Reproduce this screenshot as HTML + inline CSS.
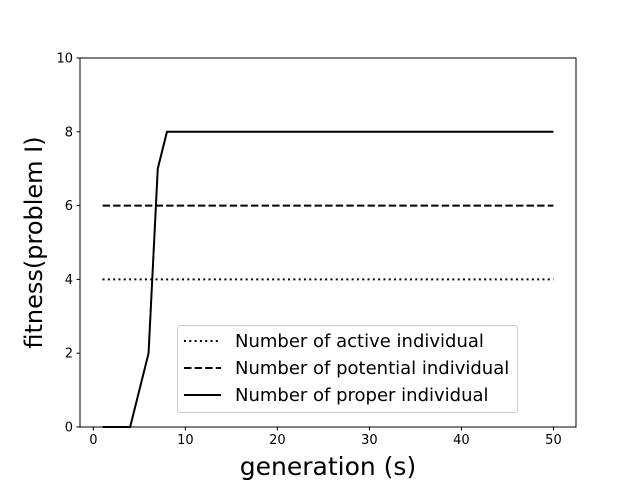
<!DOCTYPE html>
<html><head><meta charset="utf-8"><style>
html,body{margin:0;padding:0;background:#fff;}
svg{display:block;font-family:"DejaVu Sans","Liberation Sans",sans-serif;}
</style></head><body>
<svg id="c" width="640" height="480"></svg>
<script>
const generations = Array.from({length:50},(_,i)=>i+1);
const activeValues = generations.map(()=>4);
const potentialValues = generations.map(()=>6);
const properValues = [0,0,0,0,1,2,7,8,8,8,8,8,8,8,8,8,8,8,8,8,8,8,8,8,8,8,8,8,8,8,8,8,8,8,8,8,8,8,8,8,8,8,8,8,8,8,8,8,8,8];
const xTicks = [0,10,20,30,40,50];
const yTicks = [0,2,4,6,8,10];
const L=80,R=576,T=58,B=427, X0=-1.45, X1=52.45, Y0=0, Y1=10;
const sx=v=>L+(v-X0)/(X1-X0)*(R-L);
const sy=v=>B-(v-Y0)/(Y1-Y0)*(B-T);
const svg=document.getElementById('c');
const NS='http://www.w3.org/2000/svg';
function mk(tag,attrs,name,parent){const e=document.createElementNS(NS,tag);for(const k in attrs)e.setAttribute(k,attrs[k]);


(parent||svg).appendChild(e);return e;}
function series(vals,dash,name){
  const d=vals.map((v,i)=>(i?'L':'M')+sx(generations[i]).toFixed(2)+','+sy(v).toFixed(2)).join('');
  const a={d:d,fill:'none',stroke:'#000','stroke-width':2};
  if(dash)a['stroke-dasharray']=dash;
  mk('path',a,name);
}
series(activeValues,'2,3.3','active-line');
series(potentialValues,'7.4,3.2','potential-line');
series(properValues,null,'proper-line');
mk('rect',{x:L,y:T,width:R-L,height:B-T,fill:'none',stroke:'#000','stroke-width':1},'plot-frame');
xTicks.forEach(t=>{const x=sx(t);
  mk('line',{x1:x,x2:x,y1:B,y2:B+3.5,stroke:'#000','stroke-width':1},'x-tick');
  const tx=mk('text',{x:x,y:B+17,'font-size':13,'text-anchor':'middle'},'x-tick-label');tx.textContent=t;});
yTicks.forEach(t=>{const y=sy(t);
  mk('line',{x1:L,x2:L-3.5,y1:y,y2:y,stroke:'#000','stroke-width':1},'y-tick');
  const tx=mk('text',{x:L-7,y:y+4.5,'font-size':13,'text-anchor':'end'},'y-tick-label');tx.textContent=t;});
const xl=mk('text',{x:(L+R)/2,y:475,'font-size':25,'text-anchor':'middle'},'x-axis-title');xl.textContent='generation (s)';
const yl=mk('text',{x:0,y:0,'font-size':24,'text-anchor':'middle',transform:'translate(42,'+((T+B)/2)+') rotate(-90)'},'y-axis-title');yl.textContent='fitness(problem I)';
const g=mk('g',{},'legend');
mk('rect',{x:177.5,y:325.5,width:340,height:87,rx:3,fill:'#fff','fill-opacity':0.8,stroke:'#ccc','stroke-width':1},'legend-box',g);
const items=[['Number of active individual','2,3.3'],['Number of potential individual','7.4,3.2'],['Number of proper individual',null]];
items.forEach((it,i)=>{const y=341+i*27;
  const a={x1:184,x2:221,y1:y,y2:y,stroke:'#000','stroke-width':2};if(it[1])a['stroke-dasharray']=it[1];
  mk('line',a,'legend-swatch',g);
  const t=mk('text',{x:235,y:y+6,'font-size':18},'legend-entry',g);t.textContent=it[0];});
</script>
</body></html>
